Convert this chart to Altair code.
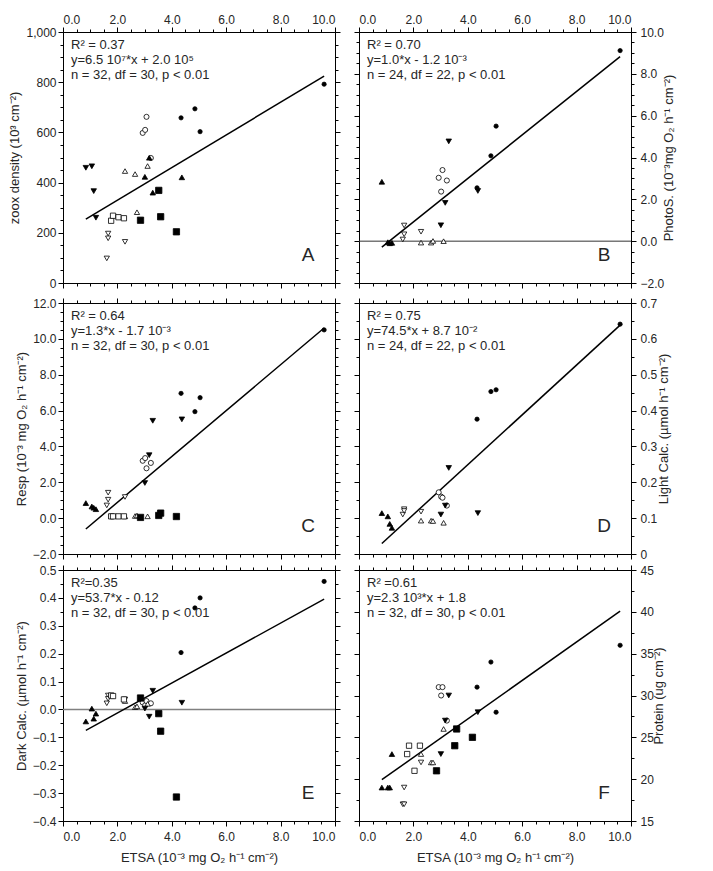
import altair as alt
import pandas as pd

FONT = "Liberation Sans"
INK = "#262626"

# ETSA of each colony (10^-3 mg O2 h^-1 cm^-2): eight groups of four colonies
etsa = [4.34, 4.85, 5.04, 9.60,
        2.93, 3.02, 3.07, 3.23,
        0.84, 1.06, 1.13, 1.21,
        3.01, 3.17, 3.30, 4.37,
        2.28, 2.65, 2.72, 3.11,
        1.61, 1.66, 1.66, 2.28,
        2.85, 3.52, 3.59, 4.17,
        1.77, 1.84, 2.04, 2.24]
group = (["circle_f"] * 4 + ["circle_o"] * 4 + ["up_f"] * 4 + ["down_f"] * 4 +
         ["up_o"] * 4 + ["down_o"] * 4 + ["square_f"] * 4 + ["square_o"] * 4)

# responses, same colony order as etsa (None = not shown)
zoox = [658, 694, 603, 792,
        598, 610, 662, 498,
        459, 465, 366, 260,
        423, 499, 360, 421,
        446, 434, 282, 466,
        98, 197, 178, 164,
        250, 369, 264, 204,
        248, 268, 262, 258]
photo = [2.55, 4.08, 5.50, 9.11,
         3.03, 2.37, 3.40, 2.90,
         2.84, -0.05, -0.10, -0.08,
         0.76, 1.83, 4.77, 2.40,
         -0.07, -0.07, 0.01, 0.00,
         0.08, 0.75, 0.33, 0.45,
         None, None, None, None,
         None, None, None, None]
resp = [6.96, 5.94, 6.72, 10.50,
        3.20, 3.35, 2.78, 3.08,
        0.84, 0.65, 0.58, 0.50,
        1.96, 3.51, 5.43, 5.51,
        0.10, 0.12, 0.15, 0.10,
        0.71, 1.42, 1.03, 1.18,
        0.04, 0.15, 0.28, 0.09,
        0.10, 0.10, 0.10, 0.10]
light = [0.376, 0.453, 0.458, 0.641,
         0.172, 0.160, 0.157, 0.135,
         0.114, 0.105, 0.084, 0.073,
         0.110, 0.135, 0.240, 0.114,
         0.093, 0.093, 0.092, 0.087,
         0.110, 0.125, 0.120, 0.118,
         None, None, None, None,
         None, None, None, None]
dark = [0.204, 0.364, 0.400, 0.459,
        0.025, 0.015, 0.030, 0.022,
        -0.043, 0.003, -0.033, -0.015,
        0.003, -0.026, 0.067, 0.024,
        0.030, 0.008, 0.011, 0.020,
        0.022, 0.050, 0.038, 0.036,
        0.041, -0.015, -0.078, -0.314,
        0.050, 0.048, None, 0.036]
protein = [31, 34, 28, 36,
           31, 30, 31, 27,
           19, 19, 19, 23,
           23, 27, 30, 28,
           23, 22, 22, 26,
           17, 17, 19, 22,
           21, 24, 26, 25,
           23, 24, 21, 24]

# symbol, marker area and fill of each group
SHAPE = {"circle_f": "circle", "circle_o": "circle", "up_f": "triangle-up",
         "down_f": "triangle-down", "up_o": "triangle-up", "down_o": "triangle-down",
         "square_f": "square", "square_o": "square"}
# panel A draws the two filled-triangle groups with swapped symbols
SHAPE_A = dict(SHAPE, up_f="triangle-down", down_f="triangle-up")
SIZE = {"circle_f": 18, "circle_o": 26, "up_f": 30, "down_f": 30, "up_o": 28,
        "down_o": 28, "square_f": 40, "square_o": 28}

W, H = 272, 251
X_DOMAIN = [0, 10]


def ticks(lo, hi, step):
    n = int(round((hi - lo) / step))
    return [round(lo + step * k, 4) for k in range(n + 1)]


X_MAJOR = ticks(0, 10, 2)
X_MINOR = ticks(0, 10, 0.5)
ETSA_TITLE = "ETSA (10⁻³ mg O₂ h⁻¹ cm⁻²)"

panels = [
    dict(values=zoox, domain=[0, 1000], major=200, minor=50, fmt=",d",
         title="zoox density (10³ cm⁻²)", side="left", row=0, letter="A",
         stats=["R² = 0.37", "y=6.5 10⁷*x + 2.0 10⁵", "n = 32, df = 30, p < 0.01"],
         fit=(65.0, 200.0), zero=None, shapes=SHAPE_A, tpos=None),
    dict(values=photo, domain=[-2, 10], major=2, minor=0.5, fmt=".1f",
         title="PhotoS. (10⁻³mg O₂ h⁻¹ cm⁻²)", side="right", row=0, letter="B",
         stats=["R² = 0.70", "y=1.0*x - 1.2 10⁻³", "n = 24, df = 22, p < 0.01"],
         fit=(1.04, -1.16), zero=("#333333", 1.0), shapes=SHAPE, tpos=31),
    dict(values=resp, domain=[-2, 12], major=2, minor=0.5, fmt=".1f",
         title="Resp (10⁻³ mg O₂ h⁻¹ cm⁻²)", side="left", row=1, letter="C",
         stats=["R² = 0.64", "y=1.3*x - 1.7 10⁻³", "n = 32, df = 30, p < 0.01"],
         fit=(1.28, -1.68), zero=None, shapes=SHAPE, tpos=None),
    dict(values=light, domain=[0, 0.7], major=0.1, minor=0.05, fmt="zero0",
         title="Light Calc. (µmol h⁻¹ cm⁻²)", side="right", row=1, letter="D",
         stats=["R² = 0.75", "y=74.5*x + 8.7 10⁻²", "n = 24, df = 22, p < 0.01"],
         fit=(0.0695, -0.029), zero=None, shapes=SHAPE, tpos=26),
    dict(values=dark, domain=[-0.4, 0.5], major=0.1, minor=0.05, fmt=".1f",
         title="Dark Calc. (µmol h⁻¹ cm⁻²)", side="left", row=2, letter="E",
         stats=["R²=0.35", "y=53.7*x - 0.12", "n = 32, df = 30, p < 0.01"],
         fit=(0.0537, -0.12), zero=("#808080", 1.5), shapes=SHAPE, tpos=None),
    dict(values=protein, domain=[15, 45], major=5, minor=2.5, fmt="d",
         title="Protein (ug cm⁻²)", side="right", row=2, letter="F",
         stats=["R² =0.61", "y=2.3 10³*x + 1.8", "n = 32, df = 30, p < 0.01"],
         fit=(2.3, 18.0), zero=None, shapes=SHAPE, tpos=21),
]


def label_opts(fmt):
    if fmt == "zero0":
        return dict(labelExpr="datum.value == 0 ? '0' : format(datum.value, '.1f')")
    return dict(format=fmt)


def make_panel(p):
    df = pd.DataFrame({"etsa": etsa, "val": p["values"], "grp": group}).dropna()
    df["filled"] = df["grp"].str.endswith("_f")
    df["sym"] = df["grp"].map(p["shapes"])
    df["area"] = df["grp"].map(SIZE)
    df["paint"] = df["filled"].map({True: "black", False: "white"})
    # open symbols first so filled ones sit on top
    df = df.sort_values("filled", kind="stable").reset_index(drop=True)
    df["z"] = range(len(df))

    xs = alt.Scale(domain=X_DOMAIN, nice=False, zero=False)
    ys = alt.Scale(domain=p["domain"], nice=False, zero=False)
    lo, hi = p["domain"]
    y_major = ticks(lo, hi, p["major"])
    y_minor = ticks(lo, hi, p["minor"])
    row, side = p["row"], p["side"]

    def axis_layer(channel, axis):
        if channel == "x":
            enc = dict(x=alt.X("etsa:Q", scale=xs, axis=axis),
                       y=alt.Y("val:Q", scale=ys, axis=None))
        else:
            enc = dict(x=alt.X("etsa:Q", scale=xs, axis=None),
                       y=alt.Y("val:Q", scale=ys, axis=axis))
        return alt.Chart(df).mark_point(opacity=0).encode(**enc)

    layers = []
    # x axes: major + minor ticks on bottom and top edges
    for orient in ["bottom", "top"]:
        show = (orient == "bottom" and row == 2) or (orient == "top" and row == 0)
        kw = dict(orient=orient, values=X_MAJOR, tickSize=5, labels=show,
                  format=".1f", minExtent=0)
        if show:
            kw["labelPadding"] = 1 if orient == "top" else 5
        if orient == "bottom" and row == 2:
            kw["title"] = ETSA_TITLE
            kw["titlePadding"] = 9
        else:
            kw["title"] = None
        layers.append(axis_layer("x", alt.Axis(**kw)))
        layers.append(axis_layer("x", alt.Axis(orient=orient, values=X_MINOR, tickSize=3,
                                                labels=False, title=None, minExtent=0)))
    # y axes: labelled side carries the title, the other side only ticks
    for orient in ["left", "right"]:
        show = orient == side
        kw = dict(orient=orient, values=y_major, tickSize=5, labels=show, minExtent=0)
        if show:
            kw.update(label_opts(p["fmt"]))
            kw["title"] = p["title"]
            kw["titleAngle"] = 270
            if orient == "left":
                kw["labelPadding"] = 2
                kw["titlePadding"] = 4
            else:
                kw["labelPadding"] = 4
                kw["titlePadding"] = 0
                kw["titleBaseline"] = "top"
                kw["minExtent"] = p["tpos"]
                kw["maxExtent"] = p["tpos"]
        else:
            kw["title"] = None
        layers.append(axis_layer("y", alt.Axis(**kw)))
        minor_ext = 58 if (orient == "left" and side == "left") else 0
        layers.append(axis_layer("y", alt.Axis(orient=orient, values=y_minor, tickSize=3,
                                                labels=False, title=None,
                                                minExtent=minor_ext)))

    if p["zero"] is not None:
        color, width = p["zero"]
        layers.append(alt.Chart(pd.DataFrame({"z": [0]})).mark_rule(
            color=color, strokeWidth=width).encode(
            y=alt.Y("z:Q", scale=ys, axis=None)))

    slope, icpt = p["fit"]
    x0, x1 = float(df["etsa"].min()), float(df["etsa"].max())
    fit_df = pd.DataFrame({"etsa": [x0, x1], "val": [slope * x0 + icpt, slope * x1 + icpt]})
    layers.append(alt.Chart(fit_df).mark_line(color="black", strokeWidth=1.5).encode(
        x=alt.X("etsa:Q", scale=xs, axis=None),
        y=alt.Y("val:Q", scale=ys, axis=None)))

    layers.append(alt.Chart(df).mark_point(
        filled=True, opacity=1, stroke="black", strokeWidth=0.8).encode(
        x=alt.X("etsa:Q", scale=xs, axis=None),
        y=alt.Y("val:Q", scale=ys, axis=None),
        shape=alt.Shape("sym:N", scale=None),
        size=alt.Size("area:Q", scale=None),
        fill=alt.Fill("paint:N", scale=None),
        order=alt.Order("z:Q"),
    ))

    layers.append(alt.Chart(pd.DataFrame({"t": ["\n".join(p["stats"])]})).mark_text(
        align="left", baseline="alphabetic", lineBreak="\n", lineHeight=15,
        fontSize=13, font=FONT, color=INK).encode(
        text="t:N", x=alt.value(8), y=alt.value(17)))

    layers.append(alt.Chart(pd.DataFrame({"t": [p["letter"]]})).mark_text(
        align="center", baseline="alphabetic", fontSize=19, font=FONT, color=INK).encode(
        text="t:N", x=alt.value(W - 27), y=alt.value(H - 22)))

    return alt.layer(*layers).resolve_axis(x="independent", y="independent").properties(
        width=W, height=H)


rows = [alt.hconcat(make_panel(panels[2 * r]), make_panel(panels[2 * r + 1]), spacing=12)
        for r in range(3)]

lower = alt.vconcat(rows[1], rows[2], spacing=2)
chart = alt.vconcat(rows[0], lower, spacing=6).properties(
    padding={"left": 4, "top": 12, "right": 5, "bottom": 2}
).configure_view(
    stroke="black", strokeWidth=1
).configure_axis(
    labelFont=FONT, titleFont=FONT, labelColor=INK, titleColor=INK,
    labelFontSize=12, titleFontSize=13, titleFontWeight="normal",
    tickColor="black", tickWidth=1, domain=False, grid=False
)

chart.save("out.html", embed_options={"renderer": "svg", "actions": False})
